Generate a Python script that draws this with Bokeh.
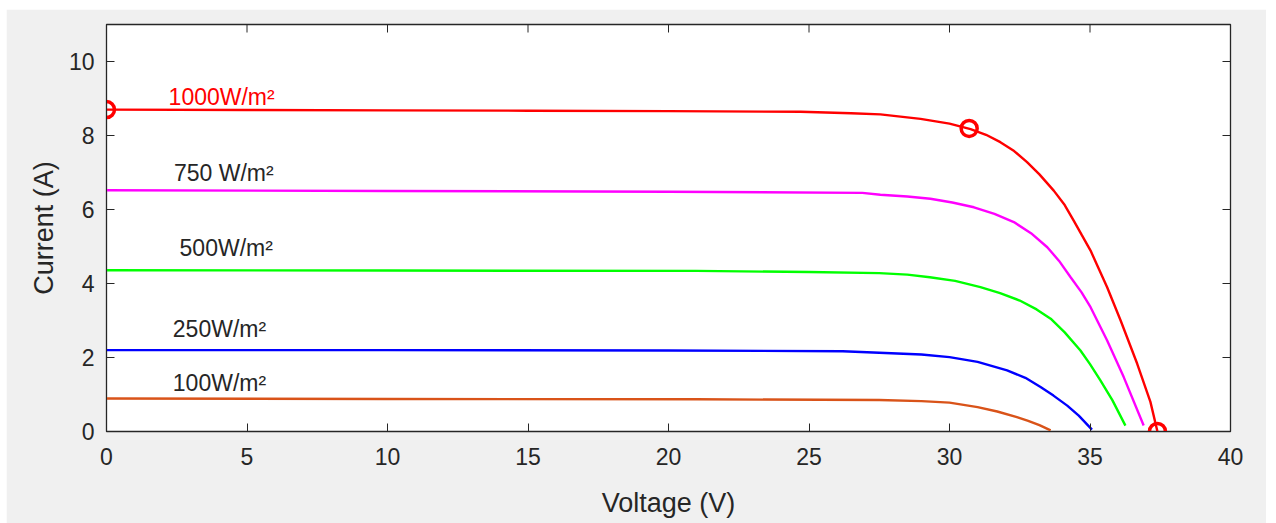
import math
from bokeh.plotting import figure
from bokeh.models import Range1d, Spacer, FixedTicker
from bokeh.layouts import column, row
from bokeh.core.properties import value
from bokeh.embed import file_html
from bokeh.resources import INLINE

# ---- data ----
v_1000 = [0, 5, 10, 15, 20, 24.7, 26.5, 27.54, 28.97, 30.0, 30.75, 31.3, 31.81, 32.3, 32.76, 33.2,
          33.71, 34.1, 34.42, 34.7, 35.02, 35.3, 35.61, 36.09, 36.68, 37.15, 37.4]
i_1000 = [8.70, 8.69, 8.68, 8.67, 8.66, 8.64, 8.60, 8.57, 8.45, 8.32, 8.17, 8.02, 7.82, 7.58, 7.28, 6.95,
          6.51, 6.12, 5.70, 5.32, 4.89, 4.42, 3.90, 3.00, 1.83, 0.80, 0.0]

v_750 = [0, 10, 20, 26.9, 27.54, 28.5, 29.32, 30.1, 30.87, 31.6, 32.29, 32.9, 33.48, 33.9, 34.31,
         34.7, 35.02, 35.61, 36.2, 36.91]
i_750 = [6.52, 6.50, 6.48, 6.45, 6.40, 6.35, 6.29, 6.19, 6.06, 5.88, 5.66, 5.36, 4.98, 4.61, 4.17,
         3.76, 3.36, 2.46, 1.47, 0.16]

v_500 = [0, 10, 21, 25, 27.5, 28.5, 29.3, 30.2, 31.1, 31.8, 32.5, 33.1, 33.6, 34.1, 34.66, 35.0,
         35.37, 35.8, 36.26]
i_500 = [4.36, 4.35, 4.34, 4.31, 4.28, 4.24, 4.17, 4.07, 3.90, 3.74, 3.54, 3.30, 3.05, 2.68, 2.19, 1.82,
         1.38, 0.84, 0.16]

v_250 = [0, 10, 20, 26.2, 27.5, 29.0, 30.0, 31.0, 32.05, 32.7, 33.24, 33.7, 34.19, 34.6, 35.07]
i_250 = [2.20, 2.20, 2.19, 2.17, 2.13, 2.08, 2.01, 1.88, 1.65, 1.45, 1.20, 0.97, 0.70, 0.43, 0.05]

v_100 = [0, 10, 21, 27.5, 29.0, 30.0, 31.0, 31.7, 32.4, 32.8, 33.2, 33.6]
i_100 = [0.89, 0.88, 0.87, 0.85, 0.82, 0.78, 0.66, 0.54, 0.39, 0.29, 0.17, 0.03]

# marked points on the 1000 W/m2 curve: Isc, MPP, Voc
mark_v = [0, 30.7, 37.4]
mark_i = [8.70, 8.19, 0.0]

labels = ["1000W/m²", "750 W/m²", "500W/m²", "250W/m²", "100W/m²"]
label_v = [2.21, 2.4, 2.6, 2.36, 2.36]
label_i = [9.03, 7.0, 4.97, 2.78, 1.32]
label_colors = ["#ff0000", "#262626", "#262626", "#262626", "#262626"]

x_ticks = [0, 5, 10, 15, 20, 25, 30, 35, 40]
y_ticks = [0, 2, 4, 6, 8, 10]
x_lim = (0, 40)
y_lim = (0, 11)

FONT = "Liberation Sans"
AX = "#262626"

p = figure(width=1260, height=514, output_backend="svg", toolbar_location=None,
           x_range=Range1d(*x_lim), y_range=Range1d(*y_lim),
           min_border_left=100, min_border_right=36, min_border_top=15, min_border_bottom=92)
p.background_fill_color = "white"
p.border_fill_color = "#f0f0f0"
p.outline_line_color = AX
p.outline_line_width = 1.3
p.grid.visible = False

for ax in (p.xaxis[0], p.yaxis[0]):
    ax.axis_line_color = AX
    ax.major_tick_line_color = AX
    ax.major_tick_in = 8
    ax.major_tick_out = 0
    ax.minor_tick_line_color = None
    ax.major_label_text_font = FONT
    ax.major_label_text_font_size = "23px"
    ax.major_label_text_color = AX
    ax.axis_label_text_font = FONT
    ax.axis_label_text_font_size = "27px"
    ax.axis_label_text_font_style = "normal"
    ax.axis_label_text_color = AX

p.xaxis.ticker = FixedTicker(ticks=x_ticks)
p.yaxis.ticker = FixedTicker(ticks=y_ticks)
p.xaxis.axis_label = "Voltage (V)"
p.yaxis.axis_label = "Current (A)"
p.xaxis.major_label_standoff = 16
p.yaxis.major_label_standoff = 12
p.xaxis.axis_label_standoff = 20
p.yaxis.axis_label_standoff = 7

# inward ticks on the top and right edges of the box (MATLAB "box on")
p.ray(x=x_ticks, y=[y_lim[1]] * len(x_ticks), length=8, length_units="screen",
      angle=-math.pi / 2, line_color=AX, line_width=1)
p.ray(x=[x_lim[1]] * len(y_ticks), y=y_ticks, length=8, length_units="screen",
      angle=math.pi, line_color=AX, line_width=1)

LW = 2.4
p.line(v_100, i_100, line_color="#D95319", line_width=LW)
p.line(v_250, i_250, line_color="#0000ff", line_width=LW)
p.line(v_500, i_500, line_color="#00ff00", line_width=LW)
p.line(v_750, i_750, line_color="#ff00ff", line_width=LW)
p.line(v_1000, i_1000, line_color="#ff0000", line_width=LW)

p.scatter(mark_v, mark_i, marker="circle", size=16, fill_color=None,
          line_color="#ff0000", line_width=3.5)

p.text(x=label_v, y=label_i, text=labels, text_color=label_colors,
       text_font=value(FONT), text_font_size="23px",
       text_align="left", text_baseline="middle")

layout = column(Spacer(height=9), row(Spacer(width=6), p))

with open("out.html", "w") as f:
    f.write(file_html(layout, INLINE))
